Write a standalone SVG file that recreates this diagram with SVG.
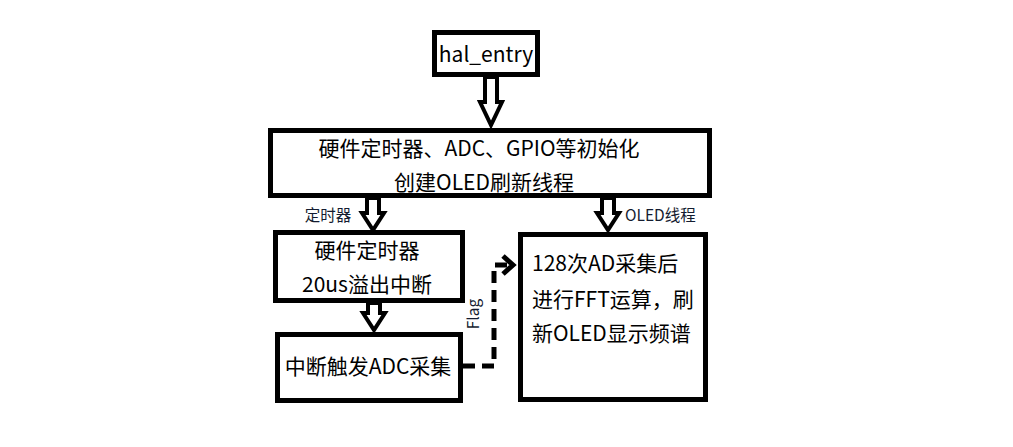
<svg xmlns="http://www.w3.org/2000/svg" width="1013" height="447" viewBox="0 0 1013 447">
<style>
.box{fill:#fff;stroke:#000;stroke-width:5}
.t{font-family:"Noto Sans CJK SC","Noto Sans",sans-serif;font-size:21px;fill:#000}
.s{font-family:"Noto Sans CJK SC","Noto Sans",sans-serif;font-size:15.5px;fill:#141c30}
.harrow{fill:#fff;stroke:#000;stroke-width:4;stroke-linejoin:miter}
.dash{fill:none;stroke:#000;stroke-width:5;stroke-dasharray:12 7}
</style>
<rect width="1013" height="447" fill="#fff"/>
<g id="connectors">
<polygon class="harrow" points="485,77 497,77 497,102 502,102 491,125 480,102 485,102"/>
<polygon class="harrow" points="367,198 379,198 379,213 384,213 373,230 362,213 367,213"/>
<polygon class="harrow" points="602,198 614,198 614,213 619,213 608,230 597,213 602,213"/>
<polygon class="harrow" points="368,303 380,303 380,313 385,313 374,330 363,313 368,313"/>
<path class="dash" d="M463,366 H494 V265 H512"/>
<path d="M503,256 L513,265 L503,274" fill="none" stroke="#000" stroke-width="5"/>
<text class="s" transform="translate(479,314) rotate(-90)" text-anchor="middle">Flag</text>
<text class="s" x="328" y="221" text-anchor="middle">定时器</text>
<text class="s" x="625" y="221">OLED线程</text>
</g>
<g id="hal_entry">
<rect class="box" x="434.5" y="32.5" width="103" height="42"/>
<text class="t" x="486" y="62" text-anchor="middle">hal_entry</text>
</g>
<g id="init">
<rect class="box" x="270.5" y="130.5" width="439" height="65"/>
<text class="t" x="479" y="156" text-anchor="middle">硬件定时器、ADC、GPIO等初始化</text>
<text class="t" x="484" y="190" text-anchor="middle">创建OLED刷新线程</text>
</g>
<g id="timer">
<rect class="box" x="275.5" y="232.5" width="187" height="68"/>
<text class="t" x="367" y="258" text-anchor="middle">硬件定时器</text>
<text class="t" x="367" y="292" text-anchor="middle">20us溢出中断</text>
</g>
<g id="adc">
<rect class="box" x="277.5" y="334.5" width="183" height="66"/>
<text class="t" x="368" y="374" text-anchor="middle">中断触发ADC采集</text>
</g>
<g id="oled">
<rect class="box" x="520.5" y="234.5" width="185" height="165"/>
<text class="t" x="532" y="271">128次AD采集后</text>
<text class="t" x="532" y="307">进行FFT运算，刷</text>
<text class="t" x="532" y="341">新OLED显示频谱</text>
</g>
</svg>
